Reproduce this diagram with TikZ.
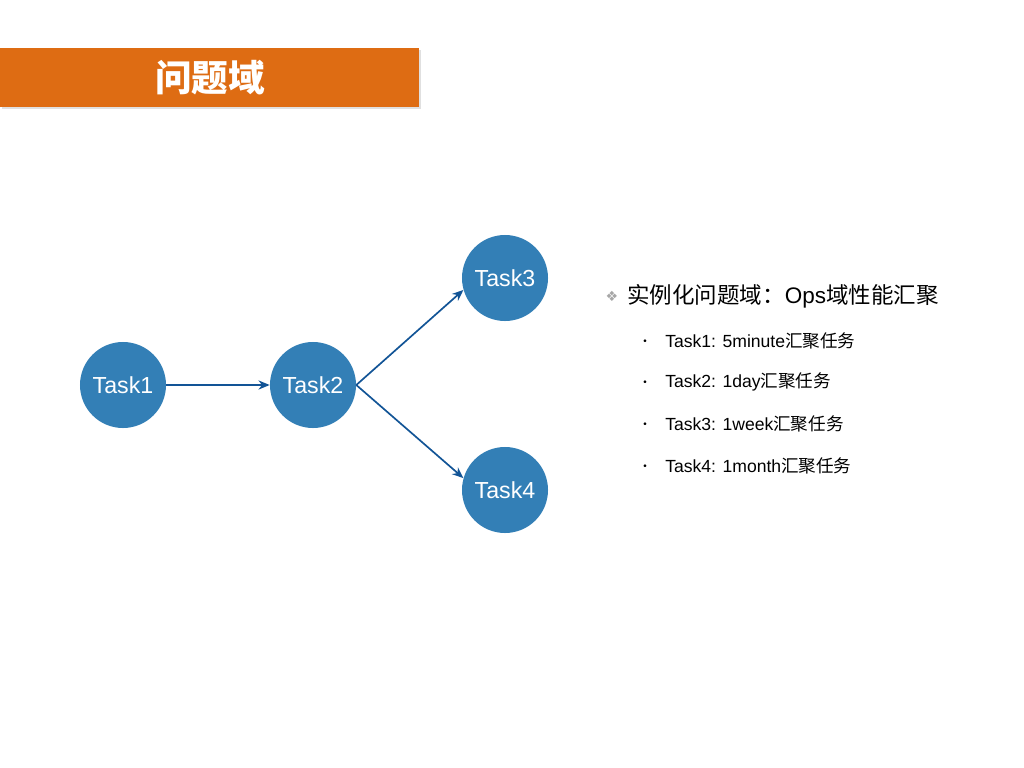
\documentclass[tikz,border=0pt]{standalone}
\usepackage{fontspec}
\setmainfont{Liberation Sans}
\newfontfamily\cjk{Noto Sans CJK SC}
\newfontfamily\symfont{DejaVu Sans}
\usetikzlibrary{arrows.meta}

\begin{document}
\begin{tikzpicture}[x=0.025cm, y=-0.025cm, >={Stealth[length=8pt,width=6.5pt]}]
	\definecolor{titleorange}{RGB}{222,108,19}
	\definecolor{taskblue}{RGB}{51,127,182}
	\definecolor{arrowblue}{RGB}{18,84,150}
	\tikzset{
		task/.style={circle, fill=taskblue, minimum size=2.15cm, inner sep=0pt, text=white, font=\fontsize{16.5}{16.5}\selectfont},
		link/.style={->, line width=1.2pt, arrowblue},
		item/.style={anchor=west, inner sep=0pt, font=\fontsize{12.5}{14}\selectfont}
	}
	\useasboundingbox (0,0) rectangle (1024,768);

	% 标题栏
	\fill[black!12] (2,50) rectangle (421,109);
	\fill[titleorange] (0,48) rectangle (419,107);
	\node[text=white, font=\cjk\bfseries\fontsize{26}{26}\selectfont] (title) at (210,78) {问题域};

	% 任务节点
	\node[task] (t1) at (123,385) {Task1};
	\node[task] (t2) at (313,385) {Task2};
	\node[task] (t3) at (505,278) {Task3};
	\node[task] (t4) at (505,490) {Task4};

	% 依赖箭头
	\draw[link] (t1) -- (t2);
	\draw[link] (t2.east) -- (t3.196);
	\draw[link] (t2.east) -- (t4.164);

	% 右侧说明
	\node[anchor=center, text=black!35, font=\symfont\fontsize{10}{10}\selectfont] (dia) at (612,296) {❖};
	\node[anchor=west, inner sep=0pt, font=\fontsize{16}{18}\selectfont] (head) at (627,296) {{\cjk 实例化问题域：}Ops{\cjk 域性能汇聚}};
	\node[item] (i1) at (665,341) {Task1: 5minute{\cjk 汇聚任务}};
	\node[item] (i2) at (665,382) {Task2: 1day{\cjk 汇聚任务}};
	\node[item] (i3) at (665,424) {Task3: 1week{\cjk 汇聚任务}};
	\node[item] (i4) at (665,466) {Task4: 1month{\cjk 汇聚任务}};
	\foreach \n in {1,...,4}
		\node[font=\fontsize{7}{7}\selectfont] (dot\n) at ([xshift=-20*0.025cm, yshift=-1pt]i\n.west) {•};
\end{tikzpicture}
\end{document}
